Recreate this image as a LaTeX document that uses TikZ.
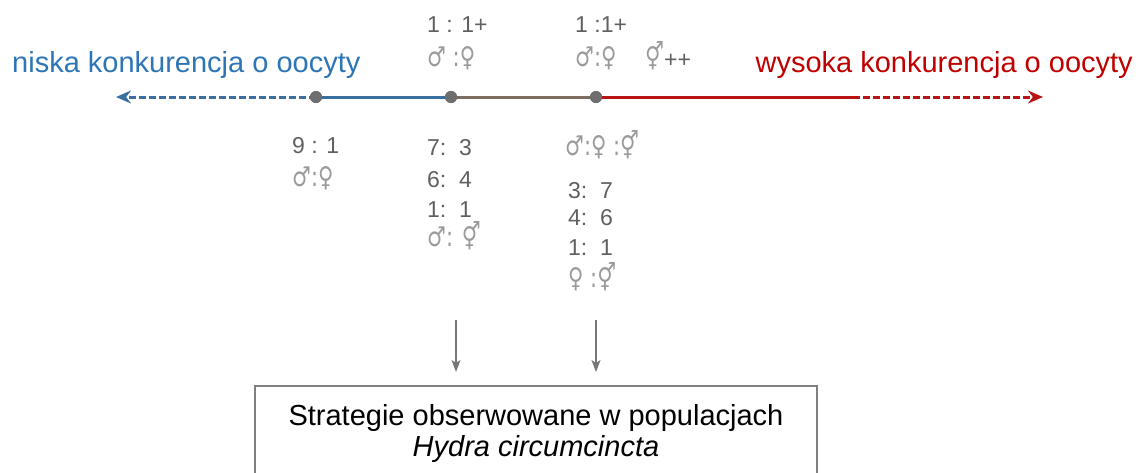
\documentclass[tikz,border=0pt]{standalone}
\usepackage{fontspec}
\usepackage{graphicx}
\setmainfont{Liberation Sans}
\newfontfamily\symfont{DejaVu Sans}
\usetikzlibrary{arrows.meta}
\definecolor{blueT}{HTML}{2E75B6}
\definecolor{redT}{HTML}{C00000}
\definecolor{blueL}{HTML}{3B6FA0}
\definecolor{midL}{HTML}{7F6E60}
\definecolor{redL}{HTML}{B81414}
\definecolor{dotgray}{HTML}{6E6E6E}
\definecolor{numgray}{HTML}{606060}
\definecolor{symgray}{HTML}{9A9A9A}
\definecolor{boxgray}{HTML}{7F7F7F}
\definecolor{arrgray}{HTML}{777777}
\newcommand{\gsym}[1]{\scalebox{1}[1.3]{#1}}
\begin{document}
\begin{tikzpicture}[x=1pt,y=-1pt,
  lbl/.style={inner sep=0pt, anchor=base west, text=numgray, font=\fontsize{23}{27}\selectfont},
  sym/.style={inner sep=0pt, anchor=base west, text=symgray, font=\symfont\fontsize{21}{25}\selectfont},
  heading/.style={inner sep=0pt, font=\fontsize{29}{34}\selectfont},
  boxtext/.style={inner sep=0pt, anchor=base, text=black, font=\fontsize{29}{34}\selectfont},
  dotnode/.style={circle, fill=dotgray, inner sep=0pt, minimum size=12pt},
  axisline/.style={line width=3pt},
  axistip/.style={-{Stealth[length=15pt,width=13pt]}},
  dashline/.style={dash pattern=on 7pt off 3pt},
  downarrow/.style={draw=arrgray, line width=1.5pt, -{Stealth[length=12pt,width=9pt,inset=3pt]}}]
\useasboundingbox (0,0) rectangle (1141,472);

% axis
\coordinate (lt) at (116,97);
\coordinate (rs) at (853,97);
\coordinate (rt) at (1043,97);
\node[dotnode] (d1) at (316,97) {};
\node[dotnode] (d2) at (451,97) {};
\node[dotnode] (d3) at (596,97) {};
\draw[axisline, blueL, dashline, axistip] (d1.center) -- (lt);
\draw[axisline, blueL] (d1.center) -- (d2.center);
\draw[axisline, midL] (d2.center) -- (d3.center);
\draw[axisline, redL] (d3.center) -- (rs);
\draw[axisline, redL, dashline, axistip] (rs) -- (rt);
\node[dotnode] at (d1) {};
\node[dotnode] at (d2) {};
\node[dotnode] at (d3) {};

% headings
\node[heading, anchor=base west, text=blueT] (low) at (12,72) {niska konkurencja o oocyty};
\node[heading, anchor=base east, text=redT] (high) at (1133,72) {wysoka konkurencja o oocyty};

% top labels
\node[lbl] (t1a) at (427,32) {1 : 1+};
\node[sym] (t1b) at (427,66) {\gsym{♂ :♀}};
\node[lbl] (t2a) at (575,32) {1 :1+};
\node[sym] (t2b) at (575,66) {\gsym{♂:♀}};
\node[sym] (t2c) at (645,66) {\gsym{⚥}};
\node[lbl] (t2d) at (664,67) {++};

% bottom labels, left
\node[lbl] (b1a) at (292,153) {9 : 1};
\node[sym] (b1b) at (292,186) {\gsym{♂:♀}};

% bottom labels, middle
\node[lbl] (b2a) at (427,155) {7:\ \ 3};
\node[lbl] (b2b) at (427,187) {6:\ \ 4};
\node[lbl] (b2c) at (427,217) {1:\ \ 1};
\node[sym] (b2d) at (427,246) {\gsym{♂: ⚥}};

% bottom labels, right
\node[sym] (b3a) at (565,155) {\gsym{♂:♀ :⚥}};
\node[lbl] (b3b) at (568,198) {3:\ \ 7};
\node[lbl] (b3c) at (568,225) {4:\ \ 6};
\node[lbl] (b3d) at (568,255) {1:\ \ 1};
\node[sym] (b3e) at (568,287) {\gsym{♀ :⚥}};

% box
\node[draw=boxgray, line width=2pt, minimum width=562pt, minimum height=130pt, anchor=north, inner sep=0pt] (box) at (536,385) {};
\node[boxtext] (bt1) at (536,425) {Strategie obserwowane w populacjach};
\node[boxtext] (bt2) at (536,456) {\itshape Hydra circumcincta};

% arrows down
\coordinate (a1s) at (456,320);
\coordinate (a1e) at (456,372);
\coordinate (a2s) at (596,320);
\coordinate (a2e) at (596,372);
\draw[downarrow] (a1s) -- (a1e);
\draw[downarrow] (a2s) -- (a2e);
\end{tikzpicture}
\end{document}
